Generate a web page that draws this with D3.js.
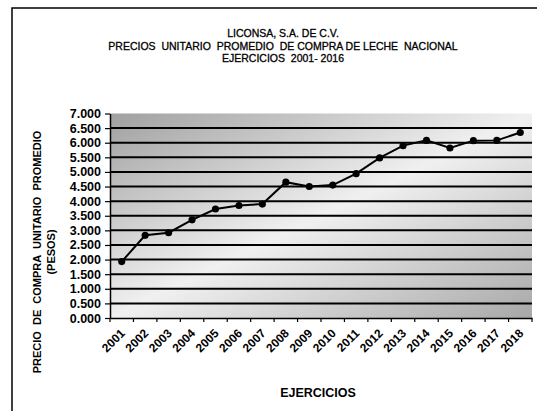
<!DOCTYPE html>
<html><head><meta charset="utf-8">
<script src="https://cdn.jsdelivr.net/npm/d3@7"></script>
<style>
html,body{margin:0;padding:0;background:#fff;}
svg{display:block;font-family:"Liberation Sans",Arial,sans-serif;}
</style></head>
<body>
<svg id="chart" width="537" height="411"></svg>
<script>
const years = ["2001","2002","2003","2004","2005","2006","2007","2008","2009","2010","2011","2012","2013","2014","2015","2016","2017","2018"];
const prices = [1.93,2.83,2.92,3.36,3.73,3.85,3.90,4.65,4.50,4.55,4.94,5.48,5.90,6.08,5.82,6.07,6.08,6.35];
const yTicks = [0,0.5,1,1.5,2,2.5,3,3.5,4,4.5,5,5.5,6,6.5,7];
const titleLines = ["LICONSA, S.A. DE C.V.","PRECIOS  UNITARIO  PROMEDIO  DE COMPRA DE LECHE  NACIONAL","EJERCICIOS  2001- 2016"];
const yTitleLines = ["PRECIO  DE  COMPRA  UNITARIO  PROMEDIO","(PESOS)"];
const xTitle = "EJERCICIOS";

const svg = d3.select("#chart");
const W = 537, H = 411;
const m = {left:110, right:532, top:113.5, bottom:318};

svg.append("path").attr("d", `M12,${H} L12,8 L${W},8`).attr("fill","none").attr("stroke","#000").attr("stroke-width",1.5);

const defs = svg.append("defs");
const grad = defs.append("linearGradient").attr("id","bg").attr("x1","0").attr("y1","0").attr("x2","1").attr("y2","1");
grad.append("stop").attr("offset","0%").attr("stop-color","#a0a0a0");
grad.append("stop").attr("offset","50%").attr("stop-color","#f0f0f0");
grad.append("stop").attr("offset","100%").attr("stop-color","#a8a8a8");

const x = d3.scaleBand().domain(years).range([m.left, m.right]).padding(0);
const y = d3.scaleLinear().domain([0,7]).range([m.bottom, m.top]);

svg.append("rect").attr("x",m.left).attr("y",m.top).attr("width",m.right-m.left).attr("height",m.bottom-m.top).attr("fill","url(#bg)");

svg.append("g").selectAll("line").data(yTicks.slice(1,-1)).join("line")
  .attr("x1",m.left).attr("x2",m.right).attr("y1",d=>y(d)).attr("y2",d=>y(d))
  .attr("stroke","#000").attr("stroke-width",2);

const yAxis = svg.append("g").attr("transform",`translate(${m.left},0)`)
  .call(d3.axisLeft(y).tickValues(yTicks).tickFormat(d3.format(".3f")).tickSize(5).tickSizeOuter(0));
yAxis.select(".domain").attr("stroke-width",1.5);
yAxis.selectAll("line").attr("stroke-width",1.2);
yAxis.selectAll("text").attr("font-size",12.5).attr("font-weight","bold").attr("x",-9).attr("font-family","Liberation Sans, Arial");

const xAxis = svg.append("g").attr("transform",`translate(0,${m.bottom})`)
  .call(d3.axisBottom(x).tickSize(0).tickSizeOuter(0));
xAxis.select(".domain").attr("stroke-width",1.5);
xAxis.selectAll(".tick line").remove();
svg.append("g").selectAll("line").data(years).join("line")
  .attr("x1",d=>x(d)+x.bandwidth()).attr("x2",d=>x(d)+x.bandwidth())
  .attr("y1",m.bottom).attr("y2",m.bottom+4).attr("stroke","#000").attr("stroke-width",1.2);
svg.append("line").attr("x1",m.left).attr("x2",m.left).attr("y1",m.bottom).attr("y2",m.bottom+4).attr("stroke","#000").attr("stroke-width",1.2);
xAxis.selectAll("text")
  .attr("font-size",12).attr("font-weight","bold").attr("font-family","Liberation Sans, Arial")
  .attr("text-anchor","end").attr("dy",0).attr("y",0)
  .attr("transform",`translate(4,16) rotate(-45)`);

const line = d3.line().x((d,i)=>x(years[i])+x.bandwidth()/2).y(d=>y(d));
svg.append("path").datum(prices).attr("d",line).attr("fill","none").attr("stroke","#000").attr("stroke-width",2);
svg.append("g").selectAll("path").data(prices).join("path")
  .attr("d",d3.symbol(d3.symbolCircle,40))
  .attr("transform",(d,i)=>`translate(${x(years[i])+x.bandwidth()/2},${y(d)})`)
  .attr("fill","#000");

const tl = svg.append("g").attr("font-size",10.5).attr("text-anchor","middle");
tl.selectAll("text").data(titleLines).join("text")
  .attr("x",283).attr("y",(d,i)=>37+i*12.5).text(d=>d)
  .attr("style","white-space:pre").attr("stroke","#000").attr("stroke-width",0.3);

const yt = svg.append("g").attr("transform","translate(41,252) rotate(-90)").attr("font-size",11).attr("font-weight","bold").attr("text-anchor","middle");
yt.selectAll("text").data(yTitleLines).join("text").attr("x",0).attr("y",(d,i)=>i*14).attr("style","white-space:pre").text(d=>d);

svg.append("text").attr("x",318).attr("y",397).attr("text-anchor","middle").attr("font-size",12.5).attr("font-weight","bold").text(xTitle);
</script>
</body></html>
